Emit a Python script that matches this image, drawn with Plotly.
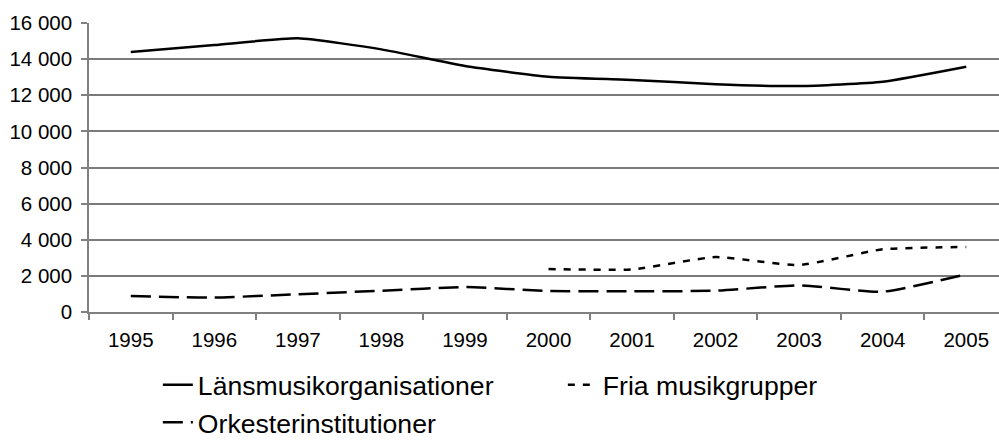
import plotly.graph_objects as go

years = ["1995", "1996", "1997", "1998", "1999", "2000", "2001", "2002", "2003", "2004", "2005"]
lans = [14400, 14780, 15150, 14540, 13620, 13030, 12850, 12610, 12510, 12750, 13580]
fria = [None, None, None, None, None, 2380, 2360, 3040, 2600, 3470, 3600]
orkester = [880, 800, 980, 1180, 1380, 1160, 1145, 1180, 1475, 1125, 2085]
y_ticks = [0, 2000, 4000, 6000, 8000, 10000, 12000, 14000, 16000]

FONT = "Liberation Sans, Arial, sans-serif"

fig = go.Figure()
fig.add_trace(go.Scatter(x=years, y=lans, name="Länsmusikorganisationer", mode="lines",
                         line=dict(color="black", width=2.5, shape="spline", smoothing=0.5)))
fig.add_trace(go.Scatter(x=years, y=fria, name="Fria musikgrupper", mode="lines",
                         line=dict(color="black", width=2.5, dash="7px,8px", shape="spline", smoothing=0.5)))
fig.add_trace(go.Scatter(x=years, y=orkester, name="Orkesterinstitutioner", mode="lines",
                         line=dict(color="black", width=2.5, dash="20px,8px", shape="spline", smoothing=0.5)))

fig.update_layout(
    width=999, height=447,
    margin=dict(l=89, r=0, t=23, b=135),
    paper_bgcolor="white", plot_bgcolor="white",
    font=dict(family=FONT, color="black", size=20.5),
    separators=", ",
    showlegend=True,
    legend=dict(orientation="h", xref="container", yref="container",
                x=0.158, y=0.0, xanchor="left", yanchor="bottom",
                font=dict(size=26.6, family=FONT), entrywidth=360,
                bgcolor="rgba(0,0,0,0)", tracegroupgap=0, itemwidth=30),
    xaxis=dict(type="category", range=[-0.5, 10.392], tickson="boundaries",
               showgrid=False, showline=True, linecolor="#808080", linewidth=1.5,
               ticks="outside", ticklen=6, tickcolor="#808080", tickwidth=1.5,
               ticklabelstandoff=9, tickfont=dict(size=20.5)),
    yaxis=dict(range=[0, 16000], tickvals=y_ticks, tickformat=",d",
               showgrid=True, gridcolor="#7a7a7a", gridwidth=1.5,
               showline=True, linecolor="#808080", linewidth=1.5,
               ticks="outside", ticklen=6, tickcolor="#808080", tickwidth=1.5,
               ticklabelstandoff=5, tickfont=dict(size=20.5), zeroline=False),
)

fig.write_html("out.html", config={"displayModeBar": False},
               post_script="document.body.style.margin='0';document.body.style.overflow='hidden';")
